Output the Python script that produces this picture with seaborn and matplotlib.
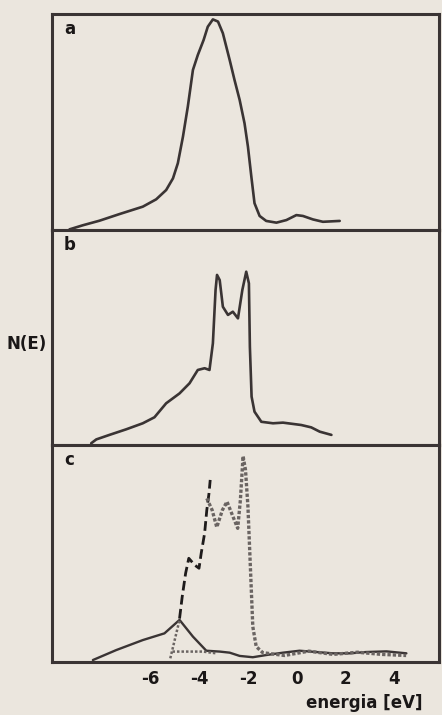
import numpy as np
import pandas as pd
import matplotlib
matplotlib.use("Agg")
import matplotlib.pyplot as plt
import seaborn as sns

# panel a: N(E)
energy_a = [-9.33, -8.78, -8.10, -7.27, -6.32, -5.77, -5.36, -5.08, -4.88, -4.67,
            -4.47, -4.26, -4.06, -3.82, -3.65, -3.44, -3.23, -3.03, -2.75, -2.55,
            -2.34, -2.14, -2.00, -1.86, -1.73, -1.52, -1.25, -0.83, -0.42, -0.01,
            0.26, 0.67, 1.08, 1.77]
dos_a = [0.003, 0.022, 0.043, 0.074, 0.108, 0.142, 0.185, 0.239, 0.309, 0.432,
         0.571, 0.741, 0.810, 0.880, 0.941, 0.975, 0.965, 0.911, 0.787, 0.694,
         0.602, 0.494, 0.386, 0.247, 0.124, 0.065, 0.042, 0.034, 0.046, 0.069,
         0.065, 0.049, 0.038, 0.042]

# panel b: N(E)
energy_b = [-8.44, -8.23, -7.69, -7.00, -6.32, -5.84, -5.36, -4.81, -4.40, -4.06,
            -3.78, -3.58, -3.44, -3.33, -3.27, -3.16, -3.03, -2.82, -2.62, -2.41,
            -2.23, -2.07, -1.96, -1.92, -1.85, -1.73, -1.45, -0.97, -0.56, -0.15,
            0.19, 0.60, 0.95, 1.43]
dos_b = [0.008, 0.026, 0.047, 0.073, 0.101, 0.129, 0.194, 0.240, 0.287, 0.349,
         0.357, 0.349, 0.473, 0.721, 0.791, 0.767, 0.643, 0.605, 0.620, 0.589,
         0.721, 0.806, 0.752, 0.457, 0.225, 0.155, 0.108, 0.101, 0.104, 0.098,
         0.093, 0.082, 0.062, 0.047]

# panel c: solid component
energy_c1 = [-8.37, -7.41, -6.32, -5.43, -4.81, -4.26, -3.71, -3.16, -2.75, -2.34,
             -1.80, -1.25, -0.56, 0.12, 0.81, 1.49, 2.18, 2.86, 3.69, 4.51]
dos_c1 = [0.009, 0.055, 0.101, 0.132, 0.194, 0.117, 0.052, 0.048, 0.043, 0.028,
          0.022, 0.032, 0.043, 0.052, 0.046, 0.040, 0.040, 0.046, 0.049, 0.040]

# panel c: black dashed component
energy_c2 = [-4.81, -4.70, -4.56, -4.43, -4.19, -4.01, -3.92, -3.78, -3.69, -3.60, -3.55]
dos_c2 = [0.200, 0.301, 0.409, 0.478, 0.447, 0.432, 0.501, 0.593, 0.700, 0.777, 0.839]

# panel c: grey dotted component
energy_c3 = [-3.69, -3.47, -3.28, -3.05, -2.86, -2.64, -2.42, -2.31, -2.20, -2.10,
             -2.00, -1.90, -1.80, -1.66, -1.39, -0.50, 0.50, 1.50, 2.50, 3.50, 4.50]
dos_c3 = [0.754, 0.700, 0.621, 0.700, 0.739, 0.677, 0.616, 0.747, 0.949, 0.885,
          0.716, 0.439, 0.163, 0.071, 0.043, 0.030, 0.050, 0.035, 0.045, 0.035, 0.030]

# panel c: low grey dotted pieces
energy_c4 = [-5.19, -4.81]
dos_c4 = [0.017, 0.194]
energy_c5 = [-5.10, -4.40, -3.85, -3.30]
dos_c5 = [0.048, 0.048, 0.048, 0.040]

ticks = [-8, -6, -4, -2, 0, 2, 4]
tick_labels = ["", "-6", "-4", "-2", "0", "2", "4"]
panel_labels = ["a", "b", "c"]

sns.set_theme(style="white")
plt.rcParams["font.family"] = ["Liberation Sans Narrow", "DejaVu Sans"]

bg = "#ebe6de"
ink = "#3a3434"
grey = "#6a6462"

fig = plt.figure(figsize=(4.42, 7.15), dpi=100, facecolor=bg)
left, width = 52 / 442, 387 / 442
rows = [(14, 230), (230, 445), (445, 662)]
axes = []
for top, bot in rows:
    ax = fig.add_axes([left, 1 - bot / 715, width, (bot - top) / 715])
    ax.set_facecolor(bg)
    axes.append(ax)

def line(ax, x, y, **kw):
    df = pd.DataFrame({"E": x, "N": y})
    sns.lineplot(data=df, x="E", y="N", ax=ax, estimator=None, sort=False, **kw)

line(axes[0], energy_a, dos_a, color=ink, lw=1.9)
line(axes[1], energy_b, dos_b, color=ink, lw=1.9)
line(axes[2], energy_c1, dos_c1, color=ink, lw=1.7)
line(axes[2], energy_c2, dos_c2, color="#1e1b1b", lw=2.0, linestyle=(0, (3.5, 1.6)))
line(axes[2], energy_c3, dos_c3, color=grey, lw=2.4, linestyle=(0, (1, 0.6)))
line(axes[2], energy_c4, dos_c4, color=grey, lw=1.8, linestyle=(0, (1, 0.8)))
line(axes[2], energy_c5, dos_c5, color=grey, lw=1.8, linestyle=(0, (1, 0.8)))

for ax, lab in zip(axes, panel_labels):
    ax.set_xlim(-10.05, 5.85)
    ax.set_ylim(0, 1)
    ax.set_xlabel("")
    ax.set_ylabel("")
    ax.set_yticks([])
    ax.set_xticks(ticks)
    ax.tick_params(axis="x", direction="in", length=4, width=1.5, color=ink,
                   pad=6, labelsize=12, labelcolor="#1a1717")
    for s in ax.spines.values():
        s.set_color(ink)
        s.set_linewidth(2.2)
        s.set_visible(True)
    ax.text(0.045, 0.93, lab, transform=ax.transAxes, fontsize=12,
            fontweight="bold", color="#1a1717", ha="center", va="center")

axes[0].set_xticklabels([])
axes[1].set_xticklabels([])
axes[2].set_xticklabels(tick_labels, fontweight="bold")

fig.text(27 / 442, 1 - 344 / 715, "N(E)", fontsize=12, fontweight="bold",
         color="#1a1717", ha="center", va="center")
fig.text(364 / 442, 1 - 703 / 715, "energia [eV]", fontsize=12, fontweight="bold",
         color="#1a1717", ha="center", va="center")

fig.savefig("out.png", dpi=100, facecolor=bg)
